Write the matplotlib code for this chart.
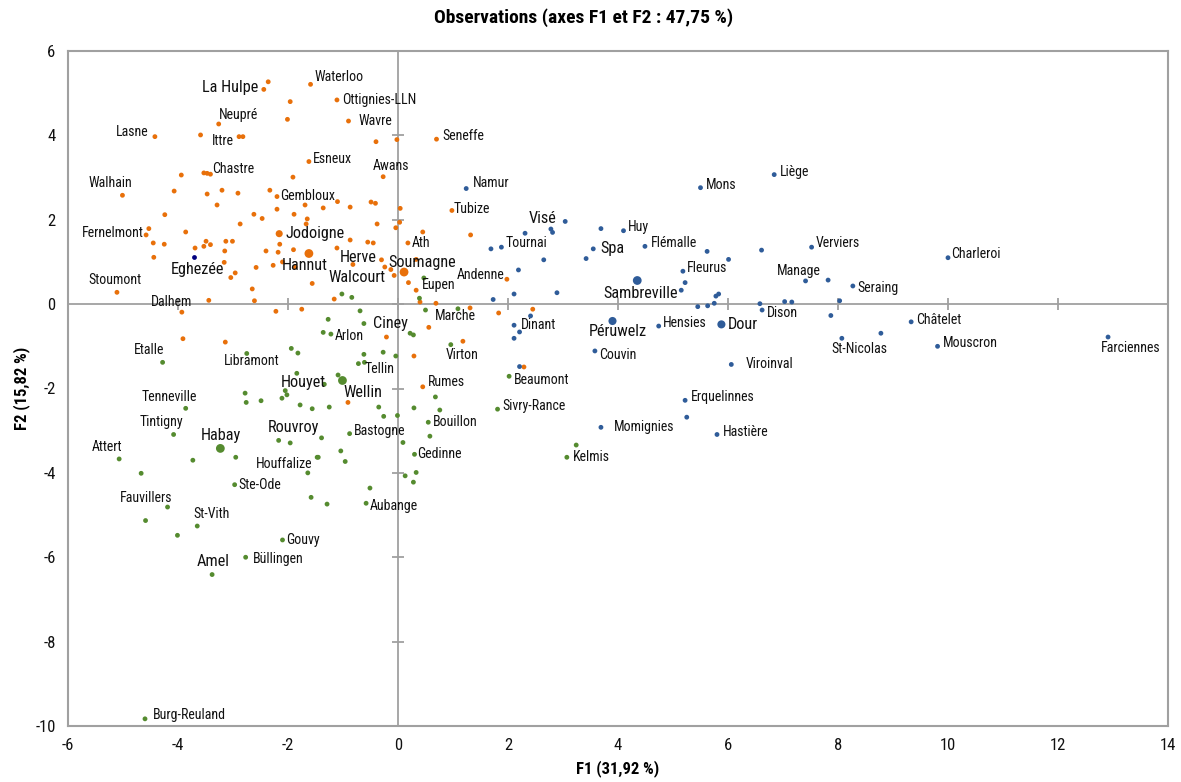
import matplotlib.pyplot as plt
from matplotlib import font_manager

# ---- data: F1 / F2 coordinates of the observations, by cluster ----------------
orange_names = ["La Hulpe", "", "Waterloo", "", "Ottignies-LLN", "Neupré", "", "Wavre", "Lasne", "",
                "Ittre", "", "", "", "Seneffe", "Esneux", "", "", "Chastre", "",
                "", "Awans", "Walhain", "", "", "", "", "", "Gembloux", "",
                "", "", "", "", "", "", "", "", "Tubize", "",
                "", "", "", "", "", "", "", "", "", "",
                "Ath", "", "Herve", "", "", "", "Soumagne", "Walcourt", "Andenne", "",
                "", "", "", "", "", "", "", "", "", "",
                "", "", "", "", "", "", "", "Fernelmont", "", "",
                "", "", "", "", "", "", "", "", "Jodoigne", "",
                "", "", "", "Hannut", "", "", "", "", "", "",
                "", "", "Stoumont", "", "", "", "Dalhem", "", "", "",
                "", "", "", "Rumes", ""]
orange_x = [-2.44, -2.36, -1.59, -1.96, -1.11, -3.26, -2.01, -0.90, -4.42, -3.59,
            -2.89, -2.82, -0.40, -0.02, 0.70, -1.62, -3.53, -3.47, -3.41, -3.94,
            -1.91, -0.27, -5.01, -4.07, -3.47, -3.20, -2.91, -2.33, -2.20, -3.29,
            -2.20, -1.69, -1.36, -1.10, -0.87, -0.49, -0.41, 0.04, 0.98, -1.65,
            -1.67, -0.38, 0.03, -0.04, 0.45, 1.32, -0.87, -1.11, -0.55, -0.45,
            0.18, -0.30, -0.82, 0.33, -0.24, -0.13, 0.11, -0.07, 1.98, 0.19,
            -1.56, 0.33, -1.16, 0.40, 0.69, -1.75, 1.31, 1.83, 2.45, 0.56,
            -0.21, -4.24, -2.62, -2.47, -1.89, -2.87, -4.53, -4.58, -3.86, -4.45,
            -4.25, -3.69, -3.49, -3.53, -3.41, -3.13, -3.01, -3.15, -2.16, -2.15,
            -2.40, -2.18, -1.90, -1.62, -4.44, -3.16, -2.10, -2.58, -2.27, -1.87,
            -2.96, -3.04, -5.11, -2.65, -2.61, -3.44, -3.93, -2.22, -3.91, -3.14,
            1.18, 0.29, 2.29, 0.45, -0.91]
orange_y = [5.09, 5.27, 5.21, 4.80, 4.84, 4.27, 4.38, 4.34, 3.97, 4.01,
            3.97, 3.97, 3.85, 3.90, 3.91, 3.38, 3.11, 3.10, 3.08, 3.06,
            3.01, 3.02, 2.58, 2.68, 2.61, 2.70, 2.63, 2.70, 2.55, 2.35,
            2.25, 2.35, 2.28, 2.43, 2.30, 2.42, 2.39, 2.27, 2.22, 2.02,
            1.90, 1.90, 1.94, 1.81, 1.71, 1.64, 1.52, 1.33, 1.47, 1.45,
            1.45, 1.05, 0.94, 1.06, 0.88, 0.82, 0.76, 0.68, 0.59, 0.51,
            0.49, 0.33, 0.12, 0.05, 0.02, -0.12, -0.09, -0.21, -0.12, -0.55,
            -0.78, 2.12, 2.13, 2.03, 2.13, 1.90, 1.79, 1.64, 1.71, 1.45,
            1.42, 1.33, 1.49, 1.37, 1.41, 1.49, 1.49, 1.26, 1.67, 1.42,
            1.26, 1.23, 1.29, 1.20, 1.11, 0.99, 1.00, 0.87, 0.92, 0.88,
            0.74, 0.63, 0.28, 0.36, 0.08, 0.09, -0.19, -0.17, -0.82, -0.90,
            -0.88, -1.23, -1.49, -1.96, -2.33]

green_names = ["", "", "Eupen", "", "", "Marche", "", "", "Ciney", "",
               "", "", "Arlon", "Etalle", "Libramont", "", "", "Houyet", "", "",
               "", "", "", "", "", "", "Tenneville", "Tintigny", "Habay", "",
               "Rouvroy", "Attert", "", "", "", "Houffalize", "", "Virton", "", "",
               "", "", "Tellin", "", "Wellin", "", "Beaumont", "", "", "",
               "", "", "Sivry-Rance", "", "", "Bouillon", "Bastogne", "", "", "",
               "", "", "", "Gedinne", "", "Kelmis", "", "", "", "",
               "", "", "Aubange", "Ste-Ode", "Fauvillers", "", "St-Vith", "", "Gouvy", "Büllingen",
               "Amel", "Burg-Reuland"]
green_x = [-1.02, -0.84, 0.47, 0.39, -0.69, 0.50, 1.09, -1.27, -0.62, 0.22,
           0.28, -1.36, -1.22, -4.28, -2.75, -1.94, -1.82, -1.84, -2.78, -2.76,
           -2.49, -2.05, -2.02, -2.11, -1.78, -1.56, -3.86, -4.08, -3.23, -2.17,
           -1.96, -5.07, -3.73, -2.95, -4.67, -1.64, -1.47, 0.96, -0.62, -0.27,
           -0.04, -0.72, -0.61, -1.09, -1.01, -1.34, 2.02, 0.68, -1.25, -0.35,
           0.29, 0.76, 1.81, -0.26, -0.01, 0.55, -0.88, -1.39, 0.58, 0.09,
           -1.04, -1.45, -0.96, 0.30, 3.24, 3.07, 0.13, 0.33, 0.28, -0.51,
           -1.58, -1.29, -0.58, -2.97, -4.19, -4.59, -3.65, -4.01, -2.10, -2.77,
           -3.38, -4.60]
green_y = [0.24, 0.16, 0.62, 0.14, -0.16, -0.14, -0.11, -0.36, -0.46, -0.69,
           -0.73, -0.67, -0.71, -1.38, -1.17, -1.05, -1.16, -1.64, -2.11, -2.33,
           -2.29, -2.05, -2.15, -2.23, -2.39, -2.48, -2.47, -3.09, -3.42, -3.23,
           -3.29, -3.67, -3.70, -3.63, -4.01, -4.00, -3.63, -0.96, -1.19, -1.14,
           -1.23, -1.41, -1.38, -1.68, -1.81, -1.90, -1.71, -2.20, -2.44, -2.44,
           -2.46, -2.51, -2.49, -2.66, -2.64, -2.80, -3.07, -3.17, -3.13, -3.28,
           -3.48, -3.63, -3.73, -3.56, -3.34, -3.63, -4.07, -3.99, -4.22, -4.36,
           -4.58, -4.74, -4.72, -4.28, -4.81, -5.13, -5.26, -5.48, -5.59, -6.00,
           -6.41, -9.83]

blue_names = ["Namur", "", "Visé", "", "", "Tournai", "", "", "", "",
              "", "", "", "Dinant", "", "", "", "Couvin", "", "Huy",
              "Spa", "", "Flémalle", "", "", "Verviers", "", "Mons", "Liège", "Fleurus",
              "Sambreville", "", "", "Manage", "", "Seraing", "", "", "", "",
              "", "", "Dison", "", "", "", "", "St-Nicolas", "Péruwelz", "Hensies",
              "Dour", "Charleroi", "Châtelet", "", "Mouscron", "Farciennes", "Viroinval", "Erquelinnes", "", "Momignies",
              "Hastière"]
blue_x = [1.24, 3.04, 2.78, 2.81, 2.31, 1.88, 1.69, 2.65, 2.19, 2.89,
          2.11, 1.73, 2.41, 2.11, 2.21, 2.11, 2.21, 3.58, 3.69, 4.10,
          3.55, 3.42, 4.49, 5.62, 6.61, 7.52, 6.01, 5.50, 6.84, 5.18,
          4.35, 5.22, 5.15, 7.41, 7.82, 8.27, 5.78, 5.83, 5.75, 5.63,
          5.45, 6.58, 6.62, 7.03, 7.16, 8.03, 7.87, 8.07, 3.90, 4.74,
          5.88, 10.00, 9.33, 8.78, 9.81, 12.91, 6.06, 5.22, 5.25, 3.69,
          5.80]
blue_y = [2.74, 1.96, 1.78, 1.70, 1.68, 1.35, 1.31, 1.05, 0.81, 0.27,
          0.24, 0.11, -0.28, -0.50, -0.66, -0.81, -1.48, -1.11, 1.79, 1.74,
          1.31, 1.08, 1.37, 1.25, 1.28, 1.35, 1.06, 2.76, 3.07, 0.78,
          0.56, 0.51, 0.33, 0.55, 0.57, 0.43, 0.19, 0.24, 0.02, -0.04,
          -0.06, 0.01, -0.14, 0.06, 0.05, 0.08, -0.27, -0.81, -0.40, -0.52,
          -0.48, 1.10, -0.42, -0.69, -1.00, -0.78, -1.43, -2.28, -2.68, -2.92,
          -3.09]

navy_names = ["Eghezée"]
navy_x = [-3.71]
navy_y = [1.11]

x_ticks = [-6, -4, -2, 0, 2, 4, 6, 8, 10, 12, 14]
y_ticks = [-10, -8, -6, -4, -2, 0, 2, 4, 6]

# ---- styling ------------------------------------------------------------------
ORANGE, BLUE, GREEN, NAVY, GREY = "#E8700A", "#2F5C99", "#558B2F", "#00007F", "#A0A0A0"


# the original uses a condensed Helvetica-like face: pick an installed narrow
# family that also ships a bold weight
def _bold(w):
    return w in ("bold", "heavy", "black", "extra bold") or (isinstance(w, int) and w >= 600)


entries = font_manager.fontManager.ttflist
fam_names = {f.name for f in entries}
pref = ["Liberation Sans Narrow", "Roboto Condensed", "Noto Sans Condensed",
        "Open Sans Condensed", "Arial Narrow"]
cands = [n for n in pref if n in fam_names]
with_bold = [n for n in cands if any(f.name == n and _bold(f.weight) for f in entries)]
if with_bold:
    FONT = [with_bold[0], "DejaVu Sans"]
    K = 1.0
elif cands:
    FONT = [cands[0], "DejaVu Sans"]
    K = 1.0
else:
    FONT = ["Liberation Sans", "DejaVu Sans"]
    K = 0.88
plt.rcParams["font.family"] = FONT
plt.rcParams["axes.unicode_minus"] = False

BIG = {"Hannut": 40, "Soumagne": 40, "Habay": 40, "Wellin": 40, "Sambreville": 40,
       "Dour": 34, "Péruwelz": 34, "Jodoigne": 26}
LARGE_TEXT = {"La Hulpe", "Jodoigne", "Hannut", "Herve", "Soumagne", "Walcourt", "Eghezée",
              "Visé", "Spa", "Sambreville", "Péruwelz", "Dour", "Ciney", "Houyet", "Wellin",
              "Habay", "Rouvroy", "Amel"}
# label placement: (dx px, dy px upward, horizontal alignment)
LBL = {
    "La Hulpe": (-6, 2, "right"), "Waterloo": (4, 7, "left"), "Ottignies-LLN": (5, 0, "left"),
    "Neupré": (0, 9, "left"), "Wavre": (10, 0, "left"), "Lasne": (-6, 5, "right"),
    "Ittre": (-5, -4, "right"), "Seneffe": (6, 3, "left"), "Esneux": (4, 3, "left"),
    "Chastre": (2, 5, "left"), "Awans": (8, 11, "center"), "Walhain": (-12, 12, "center"),
    "Gembloux": (3, 1, "left"), "Namur": (7, 6, "left"), "Liège": (6, 3, "left"),
    "Mons": (5, 3, "left"), "Tubize": (2, 1, "left"), "Visé": (-8, 11, "center"),
    "Huy": (4, 4, "left"), "Fernelmont": (-2, 2, "right"), "Jodoigne": (6, 0, "left"),
    "Tournai": (4, 4, "left"), "Ath": (4, 0, "left"), "Flémalle": (6, 3, "left"),
    "Verviers": (4, 4, "left"), "Spa": (7, 0, "left"), "Charleroi": (3, 4, "left"),
    "Herve": (5, 7, "center"), "Soumagne": (18, 10, "center"), "Eghezée": (3, -12, "center"),
    "Manage": (-7, 10, "center"), "Hannut": (-4, -12, "center"), "Fleurus": (4, 3, "left"),
    "Andenne": (-2, 4, "right"), "Walcourt": (-9, -2, "right"), "Stoumont": (-2, 12, "center"),
    "Eupen": (-2, -7, "left"), "Seraing": (5, -2, "left"), "Sambreville": (3, -13, "center"),
    "Dalhem": (-10, 10, "center"), "Dison": (5, -3, "left"), "Marche": (9, -6, "left"),
    "Châtelet": (5, 2, "left"), "Hensies": (4, 3, "left"), "Dour": (6, 0, "left"),
    "Dinant": (7, 0, "left"), "Ciney": (9, 0, "left"), "Péruwelz": (5, -10, "center"),
    "Arlon": (4, -2, "left"), "Farciennes": (23, -11, "center"), "St-Nicolas": (18, -11, "center"),
    "Mouscron": (5, 3, "left"), "Etalle": (-14, 12, "center"), "Virton": (11, -10, "center"),
    "Couvin": (4, -4, "left"), "Libramont": (5, -8, "center"), "Viroinval": (14, 0, "left"),
    "Tellin": (0, -7, "left"), "Beaumont": (5, -4, "left"), "Houyet": (7, -9, "center"),
    "Rumes": (5, 5, "left"), "Wellin": (20, -12, "center"), "Tenneville": (-16, 11, "center"),
    "Erquelinnes": (6, 3, "left"), "Sivry-Rance": (5, 3, "left"), "Tintigny": (-12, 12, "center"),
    "Bouillon": (5, 0, "left"), "Momignies": (13, 0, "left"), "Rouvroy": (3, 15, "center"),
    "Bastogne": (4, 3, "left"), "Hastière": (6, 2, "left"), "Habay": (1, 13, "center"),
    "Attert": (-12, 12, "center"), "Gedinne": (3, 0, "left"), "Kelmis": (6, 0, "left"),
    "Houffalize": (-24, 9, "center"), "Ste-Ode": (4, 0, "left"), "Fauvillers": (-21, 9, "center"),
    "Aubange": (4, -3, "left"), "St-Vith": (14, 12, "center"), "Gouvy": (4, 0, "left"),
    "Büllingen": (7, -2, "left"), "Amel": (1, 13, "center"), "Burg-Reuland": (8, 4, "left"),
}

fig = plt.figure(figsize=(11.81, 7.82), dpi=100)
ax = fig.add_axes([68 / 1181, 56 / 782, 1100 / 1181, 675 / 782])
ax.set_xlim(x_ticks[0], x_ticks[-1])
ax.set_ylim(y_ticks[0], y_ticks[-1])

# zero axes with Excel-style cross ticks
ax.axhline(0, color=GREY, lw=1.3, zorder=1)
ax.axvline(0, color=GREY, lw=1.3, zorder=1)
ax.plot(x_ticks[1:-1], [0] * len(x_ticks[1:-1]), ls="none", marker="|", ms=8, mew=1.3, color=GREY, zorder=1)
ax.plot([0] * len(y_ticks[1:-1]), y_ticks[1:-1], ls="none", marker="_", ms=8, mew=1.3, color=GREY, zorder=1)

for names, xs, ys, col in [(orange_names, orange_x, orange_y, ORANGE),
                           (green_names, green_x, green_y, GREEN),
                           (blue_names, blue_x, blue_y, BLUE),
                           (navy_names, navy_x, navy_y, NAVY)]:
    sizes = [BIG.get(n, 12) for n in names]
    ax.scatter(xs, ys, s=sizes, color=col, lw=0, zorder=3)
    for n, x, y in zip(names, xs, ys):
        if not n:
            continue
        dx, dy, ha = LBL.get(n, (4, 0, "left"))
        ax.annotate(n, (x, y), xytext=(dx * 0.72, dy * 0.72), textcoords="offset points",
                    ha=ha, va="center", fontsize=(11.7 if n in LARGE_TEXT else 10) * K,
                    color="#111111", zorder=4)

ax.set_xticks(x_ticks)
ax.set_yticks(y_ticks)
ax.tick_params(length=0, labelsize=12 * K, pad=9, labelcolor="#111111")
for s in ax.spines.values():
    s.set_color(GREY)
    s.set_linewidth(1.5)

ax.set_xlabel("F1 (31,92 %)", fontsize=12 * K, fontweight="bold", labelpad=5)
ax.set_ylabel("F2 (15,82 %)", fontsize=12 * K, fontweight="bold", labelpad=4)
fig.text(0.494, 0.977, "Observations (axes F1 et F2 : 47,75 %)", ha="center", va="center",
         fontsize=14 * K, fontweight="bold")

fig.savefig("out.png", dpi=100)
